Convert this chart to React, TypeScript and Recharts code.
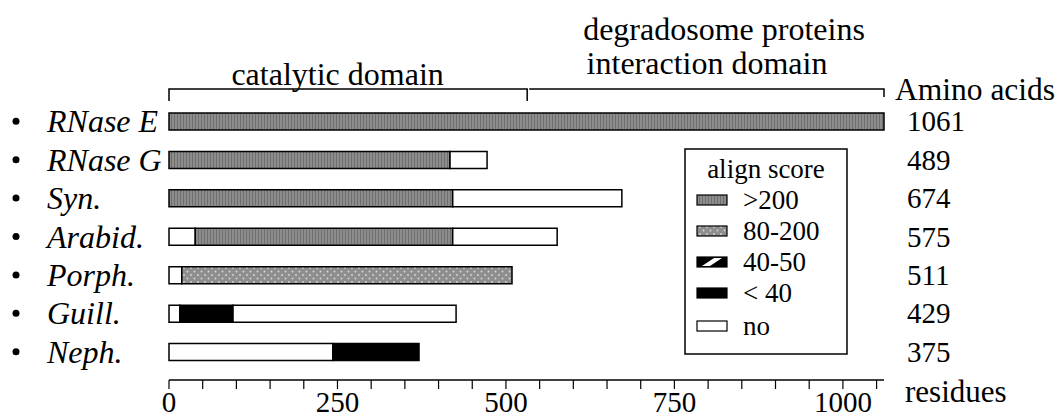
import React from 'react';
import { BarChart, Bar, XAxis, YAxis, Cell, Legend, Customized } from 'recharts';

// proteins, in the order they are drawn (top to bottom)
const proteins = ['RNase E', 'RNase G', 'Syn.', 'Arabid.', 'Porph.', 'Guill.', 'Neph.'];
const aminoAcids = [1061, 489, 674, 575, 511, 429, 375];

// stacked segments along the residue axis, with their align score class
const seg1Len = [1061, 417, 421, 39, 19, 16, 243];
const seg1Score = ['>200', '>200', '>200', 'no', 'no', 'no', 'no'];
const seg2Len = [0, 55, 251, 382, 490, 79, 128];
const seg2Score = ['no', 'no', 'no', '>200', '80-200', '< 40', '< 40'];
const seg3Len = [0, 0, 0, 155, 0, 331, 0];
const seg3Score = ['no', 'no', 'no', 'no', 'no', 'no', 'no'];

const scoreClasses = ['>200', '80-200', '40-50', '< 40', 'no'];
const residueTicks = [0, 50, 100, 150, 200, 250, 300, 350, 400, 450, 500, 550, 600, 650, 700, 750, 800, 850, 900, 950, 1000, 1050];
const residueLabels = [0, 250, 500, 750, 1000];
const domainBounds = [0, 533, 1061];

const FONT = "'Liberation Serif', 'Times New Roman', Times, serif";
const serif = { fontFamily: FONT };
const W = 1058;
const H = 419;
const PLOT_LEFT = 169;
const PLOT_RIGHT = 884;
const X_MAX = 1061;
const px = (v: number) => PLOT_LEFT + (v / X_MAX) * (PLOT_RIGHT - PLOT_LEFT);

const scoreFill: Record<string, string> = {
  '>200': 'url(#stripeGray)',
  '80-200': 'url(#dotGray)',
  '40-50': '#000',
  '< 40': '#000',
  no: '#fff',
};

const chartData = proteins.map((name, i) => ({
  name,
  aa: aminoAcids[i],
  s1: seg1Len[i],
  t1: seg1Score[i],
  s2: seg2Len[i],
  t2: seg2Score[i],
  s3: seg3Len[i],
  t3: seg3Score[i],
}));

const NameTick = (props: any) => {
  const { y, payload } = props;
  return (
    <g>
      <circle cx={16} cy={y} r={3.5} fill="#000" />
      <text x={47} y={y} dy={11} style={{ ...serif, fontStyle: 'italic', fontSize: 32 }} fill="#000">
        {payload.value}
      </text>
    </g>
  );
};

const LengthTick = (props: any) => {
  const { y, index } = props;
  return (
    <text x={907} y={y} dy={10} style={{ ...serif, fontSize: 29 }} fill="#000">
      {aminoAcids[index]}
    </text>
  );
};

const ResidueTick = (props: any) => {
  const { x, y, payload } = props;
  if (!residueLabels.includes(payload.value)) return <g />;
  return (
    <text x={x} y={y} dy={21} textAnchor="middle" style={{ ...serif, fontSize: 29 }} fill="#000">
      {payload.value}
    </text>
  );
};

const Swatch = ({ cls, y }: { cls: string; y: number }) => {
  if (cls === '40-50') {
    return (
      <g>
        <rect x={13} y={y - 5} width={30} height={10} fill="#000" stroke="#000" strokeWidth={1.2} />
        <polygon points={`18,${y + 4} 26,${y + 4} 38,${y - 4} 30,${y - 4}`} fill="#fff" />
      </g>
    );
  }
  return (
    <rect x={13} y={y - 5} width={30} height={10} fill={scoreFill[cls]} stroke="#000" strokeWidth={1.2} />
  );
};

const renderLegend = () => {
  const rows = [52, 83, 114, 145, 178];
  return (
    <svg width={164} height={207} style={{ display: 'block' }}>
      <rect x={1} y={1} width={162} height={205} fill="#fff" stroke="#000" strokeWidth={1.5} />
      <text x={82} y={30} textAnchor="middle" style={{ ...serif, fontSize: 27 }} fill="#000">
        align score
      </text>
      {scoreClasses.map((cls, i) => (
        <g key={cls}>
          <Swatch cls={cls} y={rows[i]} />
          <text x={59} y={rows[i] + 9} style={{ ...serif, fontSize: 27 }} fill="#000">
            {cls}
          </text>
        </g>
      ))}
    </svg>
  );
};

const Annotations = () => {
  const a = px(domainBounds[0]);
  const b = px(domainBounds[1]);
  const c = px(domainBounds[2]);
  const lineY = 89;
  const t = { ...serif, fontSize: 32 };
  return (
    <g fill="#000">
      <path d={`M${a},${lineY + 12} V${lineY} H${b - 1} V${lineY + 12}`} fill="none" stroke="#000" strokeWidth={1.5} />
      <path d={`M${b + 1},${lineY} H${c} V${lineY + 8}`} fill="none" stroke="#000" strokeWidth={1.5} />
      <text x={(a + b) / 2 - 11} y={85} textAnchor="middle" style={t}>catalytic domain</text>
      <text x={724} y={40} textAnchor="middle" style={t}>degradosome proteins</text>
      <text x={707} y={74} textAnchor="middle" style={t}>interaction domain</text>
      <text x={895} y={100} style={{ ...serif, fontSize: 31.5 }}>Amino acids</text>
      <text x={905} y={402} style={{ ...serif, fontSize: 31 }}>residues</text>
    </g>
  );
};

const App: React.FC = () => {
  return (
    <div style={{ position: 'absolute', left: 0, top: 0, width: W, height: H, background: '#fff', fontFamily: FONT }}>
      <svg width={0} height={0} style={{ position: 'absolute' }}>
        <defs>
          <pattern id="stripeGray" patternUnits="userSpaceOnUse" width={3} height={6}>
            <rect width={3} height={6} fill="#8c8c8c" />
            <rect width={1} height={6} fill="#6f6f6f" />
          </pattern>
          <pattern id="dotGray" patternUnits="userSpaceOnUse" width={7} height={7}>
            <rect width={7} height={7} fill="#8e8e8e" />
            <circle cx={2} cy={2} r={0.9} fill="#d8d8d8" />
            <circle cx={5.5} cy={5.5} r={0.9} fill="#d8d8d8" />
          </pattern>
        </defs>
      </svg>
      <BarChart
        width={W}
        height={H}
        layout="vertical"
        data={chartData}
        margin={{ top: 102, right: 24, bottom: 0, left: 0 }}
        style={serif}
      >
        <XAxis
          type="number"
          domain={[0, X_MAX]}
          ticks={residueTicks}
          interval={0}
          height={39}
          axisLine={{ stroke: '#000', strokeWidth: 1.5 }}
          tickLine={{ stroke: '#000', strokeWidth: 1.2 }}
          tickSize={9}
          tick={<ResidueTick />}
        />
        <YAxis
          yAxisId="left"
          type="category"
          dataKey="name"
          width={169}
          axisLine={false}
          tickLine={false}
          padding={{ top: 0, bottom: 9 }}
          tick={<NameTick />}
        />
        <YAxis
          yAxisId="right"
          orientation="right"
          type="category"
          dataKey="name"
          width={150}
          axisLine={false}
          tickLine={false}
          padding={{ top: 0, bottom: 9 }}
          tick={<LengthTick />}
        />
        <Legend
          layout="horizontal"
          verticalAlign="middle"
          align="center"
          content={renderLegend}
          wrapperStyle={{ position: 'absolute', left: 684, top: 148, width: 164, height: 207 }}
        />
        <Bar yAxisId="left" dataKey="s1" stackId="a" barSize={17} stroke="#000" strokeWidth={1.5} isAnimationActive={false}>
          {chartData.map((d, i) => <Cell key={`a${i}`} fill={scoreFill[d.t1]} />)}
        </Bar>
        <Bar yAxisId="left" dataKey="s2" stackId="a" barSize={17} stroke="#000" strokeWidth={1.5} isAnimationActive={false}>
          {chartData.map((d, i) => <Cell key={`b${i}`} fill={scoreFill[d.t2]} />)}
        </Bar>
        <Bar yAxisId="left" dataKey="s3" stackId="a" barSize={17} stroke="#000" strokeWidth={1.5} isAnimationActive={false}>
          {chartData.map((d, i) => <Cell key={`c${i}`} fill={scoreFill[d.t3]} />)}
        </Bar>
        <Customized component={Annotations} />
      </BarChart>
    </div>
  );
};

export default App;
